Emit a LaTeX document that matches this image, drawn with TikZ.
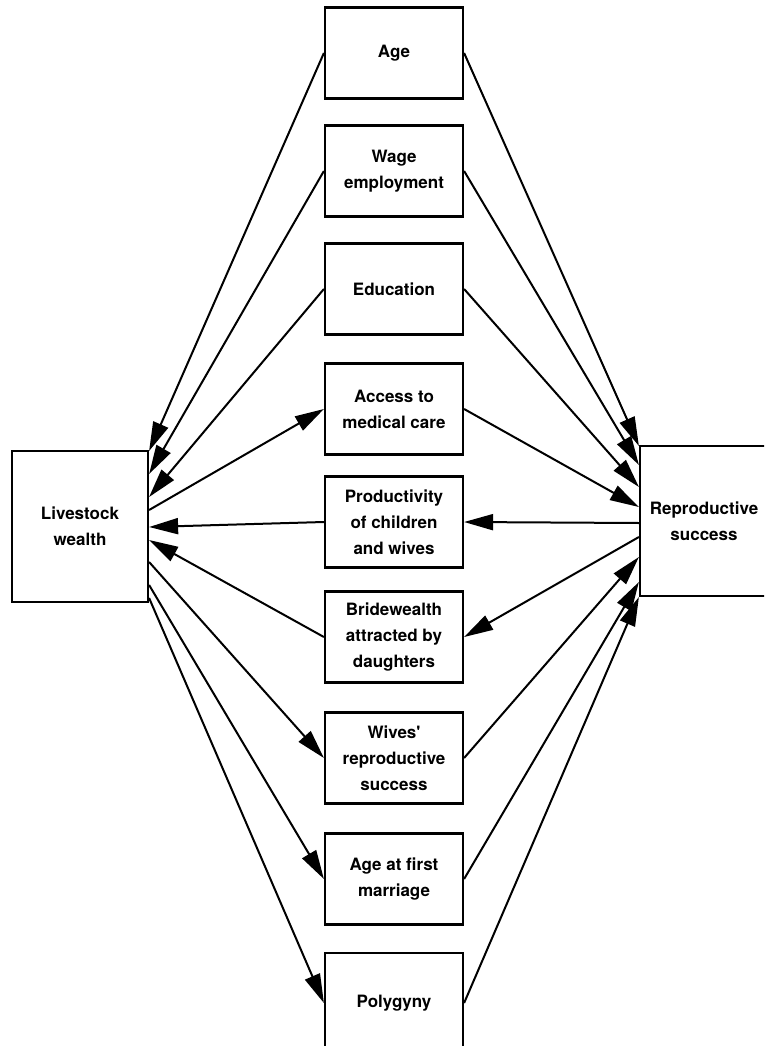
\documentclass[tikz,border=0pt]{standalone}
\usepackage{fontspec}
\setmainfont{TeX Gyre Heros}
\usetikzlibrary{arrows.meta}
\tikzset{>={Triangle[length=29pt,width=16pt]}}
\tikzset{factor/.style={draw, line width=2.2pt, minimum width=138pt, minimum height=91pt, inner sep=0pt, align=center, font=\fontsize{17}{26}\selectfont\bfseries}}

\begin{document}
\begin{tikzpicture}[x=1pt, y=-1pt]
	\clip (0,0) rectangle (764,1046);
	\node [factor, minimum width=136pt, minimum height=151pt] (lw) at (80,526.5) {Livestock\\wealth};
	\node [factor, minimum width=128pt, minimum height=150pt] (rs) at (704,521) {Reproductive\\success};
	\node [factor] (age) at (394,53) {Age};
	\node [factor] (wage) at (394,171) {Wage\\employment};
	\node [factor] (edu) at (394,289) {Education};
	\node [factor] (med) at (394,409) {Access to\\medical care};
	\node [factor] (prod) at (394,522) {Productivity\\of children\\and wives};
	\node [factor] (bride) at (394,637) {Bridewealth\\attracted by\\daughters};
	\node [factor] (wives) at (394,758) {Wives\textquotesingle\\reproductive\\success};
	\node [factor] (mar) at (394,879) {Age at first\\marriage};
	\node [factor, minimum height=100pt] (poly) at (394,1003) {Polygyny};
	% livestock wealth side
	\foreach \n/\y in {age/451, wage/474, edu/497, prod/527, bride/540}
	\draw [->, line width=2pt] (\n.west) -- (lw.east |- 0,\y);
	\foreach \n/\y in {med/510, wives/562, mar/585, poly/598}
	\draw [->, line width=2pt] (lw.east |- 0,\y) -- (\n.west);
	% reproductive success side
	\foreach \n/\y in {age/446, wage/465, edu/487, med/507, wives/557, mar/582, poly/597}
	\draw [->, line width=2pt] (\n.east) -- (rs.west |- 0,\y);
	\foreach \n/\y in {prod/523, bride/537}
	\draw [->, line width=2pt] (rs.west |- 0,\y) -- (\n.east);
\end{tikzpicture}
\end{document}
